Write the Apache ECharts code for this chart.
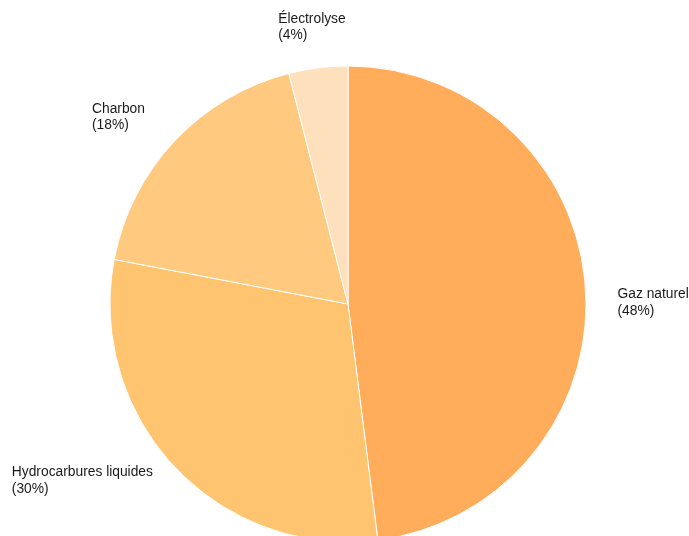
<!DOCTYPE html>
<html>
<head>
<meta charset="utf-8">
<script src="https://cdn.jsdelivr.net/npm/echarts@6/dist/echarts.min.js"></script>
<style>
  html, body { margin: 0; padding: 0; background: #fff; }
  #chart { width: 689px; height: 536px; }
</style>
</head>
<body>
<div id="chart"></div>
<script>
// Sources of hydrogen production (share in %)
const sources = ['Gaz naturel', 'Hydrocarbures liquides', 'Charbon', 'Électrolyse'];
const shares = [48, 30, 18, 4];
const colors = ['#FFAD5A', '#FFC46F', '#FFCA80', '#FFE0BC'];

// Left edge / top edge of each outside label block, relative to the default placement
const labelNudge = [[-3, 15], [8, 0], [0, -10], [45, -21]];

const chart = echarts.init(document.getElementById('chart'), null, { renderer: 'canvas' });

chart.setOption({
  animation: false,
  series: [{
    type: 'pie',
    center: [348, 304],
    radius: 238,
    startAngle: 90,
    clockwise: true,
    avoidLabelOverlap: false,
    data: sources.map((name, i) => ({
      name: name,
      value: shares[i],
      itemStyle: { color: colors[i] }
    })),
    itemStyle: { borderColor: '#fff', borderWidth: 1 },
    label: {
      position: 'outside',
      formatter: '{b}\n({c}%)',
      fontFamily: 'Liberation Sans, Arial, sans-serif',
      fontSize: 13.8,
      lineHeight: 16.5,
      color: '#1a1a1a'
    },
    labelLine: { show: false, length: 20, length2: 10 },
    labelLayout: function (params) {
      const r = params.labelRect;
      const n = labelNudge[params.dataIndex];
      return {
        x: r.x + n[0],
        y: r.y + n[1],
        align: 'left',
        verticalAlign: 'top'
      };
    },
    emphasis: { disabled: true }
  }]
});
</script>
</body>
</html>
